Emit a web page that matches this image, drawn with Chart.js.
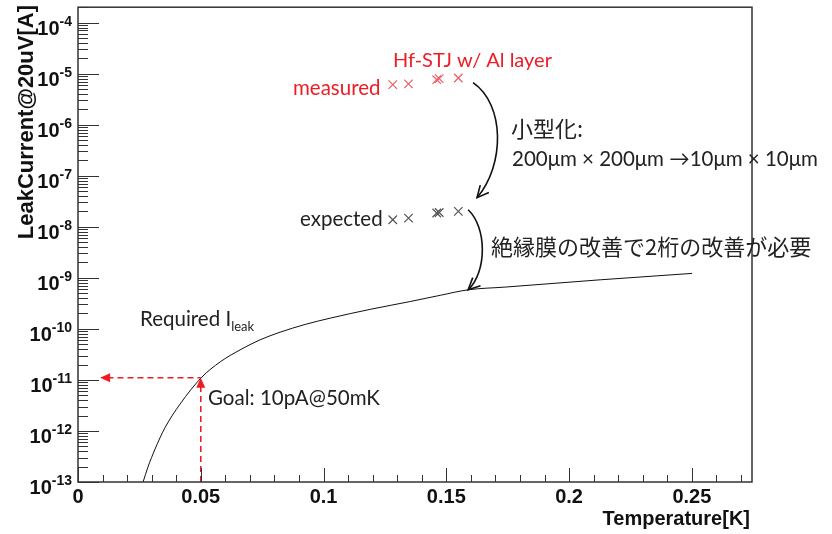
<!DOCTYPE html>
<html>
<head>
<meta charset="utf-8">
<script src="https://cdn.jsdelivr.net/npm/chart.js@4"></script>
<style>
  html, body { margin: 0; padding: 0; background: #fff; }
  #wrap { width: 832px; height: 534px; }
</style>
</head>
<body>
<div id="wrap"><canvas id="chart" width="832" height="534"></canvas></div>
<script>
// required leak current curve
const curveT = [0.0265, 0.0285, 0.0314, 0.0354, 0.0416, 0.0504, 0.0579, 0.066, 0.0741, 0.0823, 0.0925,
  0.1027, 0.119, 0.1353, 0.1475, 0.1589, 0.174, 0.2127, 0.2501];
const curveI = [1e-13, 1.97e-13, 4.44e-13, 1.15e-12, 3.38e-12, 1.13e-11, 2.25e-11, 3.87e-11, 6.08e-11, 8.6e-11, 1.22e-10,
  1.62e-10, 2.41e-10, 3.43e-10, 4.54e-10, 5.82e-10, 6.58e-10, 9.14e-10, 1.22e-9];

// Hf-STJ w/ Al layer, measured and expected after downsizing
const sampleT = [0.1282, 0.1346, 0.1461, 0.1471, 0.1549];
const measuredI = [6.1e-6, 6.3e-6, 7.6e-6, 8.0e-6, 8.2e-6];
const expectedI = [1.37e-8, 1.48e-8, 1.86e-8, 1.9e-8, 2.0e-8];

// goal point: 10pA @ 50mK
const goalT = 0.05;
const goalI = 1.1e-11;
const goalArrowT = 0.009;

// axis ticks
const xTicks = [0, 0.05, 0.1, 0.15, 0.2, 0.25];
const xTickLabels = ['0', '0.05', '0.1', '0.15', '0.2', '0.25'];
const yPowers = [-13, -12, -11, -10, -9, -8, -7, -6, -5, -4];

// curved arrows (data coords: start, ctrl1, ctrl2, end)
const arrow1 = [[0.1609, 6.67e-6], [0.1739, 2.47e-6], [0.1739, 1.64e-7], [0.1625, 3.71e-8]];
const arrow2 = [[0.1589, 2.15e-8], [0.1666, 9.55e-9], [0.1666, 1.31e-9], [0.1589, 5.82e-10]];

const RED = '#ee1c25';
const TXT = "Lato, 'Noto Sans CJK JP', sans-serif";
const CJK = "'Noto Sans CJK JP', sans-serif";
const AX = "'Liberation Sans', Arial, sans-serif";

function openHead(ctx, x, y, fx, fy, len) {
  const a = Math.atan2(y - fy, x - fx);
  ctx.beginPath();
  ctx.moveTo(x - len * Math.cos(a - 0.45), y - len * Math.sin(a - 0.45));
  ctx.lineTo(x, y);
  ctx.lineTo(x - len * Math.cos(a + 0.45), y - len * Math.sin(a + 0.45));
  ctx.stroke();
}

function fillHead(ctx, x, y, dir) {
  ctx.beginPath();
  if (dir === 'left') {
    ctx.moveTo(x, y); ctx.lineTo(x + 10, y - 4.5); ctx.lineTo(x + 10, y + 4.5);
  } else {
    ctx.moveTo(x, y); ctx.lineTo(x - 4.5, y + 10); ctx.lineTo(x + 4.5, y + 10);
  }
  ctx.closePath();
  ctx.fill();
}

const decor = {
  id: 'decor',
  afterDatasetsDraw(chart) {
    const { ctx, chartArea: a, scales: { x, y } } = chart;
    const X = v => x.getPixelForValue(v);
    const Y = v => y.getPixelForValue(v);
    ctx.save();

    // frame
    ctx.strokeStyle = '#333';
    ctx.lineWidth = 1.5;
    ctx.strokeRect(a.left, a.top, a.right - a.left, a.bottom - a.top);

    // x ticks
    ctx.lineWidth = 1;
    ctx.strokeStyle = '#333';
    for (let i = 0; i <= 27; i++) {
      const px = Math.round(X(i / 100)) + 0.5;
      const len = i % 5 === 0 ? 14 : 7;
      ctx.beginPath(); ctx.moveTo(px, a.bottom); ctx.lineTo(px, a.bottom - len); ctx.stroke();
    }
    // y ticks
    yPowers.forEach(p => {
      for (let m = 1; m <= 9; m++) {
        const v = m * Math.pow(10, p);
        if (v > y.max) break;
        const py = Math.round(Y(v)) + 0.5;
        const len = m === 1 ? 21 : 10;
        ctx.beginPath(); ctx.moveTo(a.left, py); ctx.lineTo(a.left + len, py); ctx.stroke();
      }
    });

    // tick labels
    ctx.fillStyle = '#111';
    ctx.textBaseline = 'alphabetic';
    ctx.textAlign = 'center';
    ctx.font = 'bold 20px ' + AX;
    xTicks.forEach((t, i) => ctx.fillText(xTickLabels[i], X(t), 503));
    yPowers.forEach(p => {
      const py = Y(Math.pow(10, p));
      ctx.font = 'bold 14px ' + AX;
      const e = String(p);
      const w = ctx.measureText(e).width;
      ctx.textAlign = 'left';
      ctx.fillText(e, 72 - w, py + 3);
      ctx.font = 'bold 20px ' + AX;
      ctx.textAlign = 'right';
      ctx.fillText('10', 72 - w, py + 12);
    });

    // axis titles
    ctx.font = 'bold 20px ' + AX;
    ctx.textAlign = 'right';
    ctx.fillText('Temperature[K]', 750, 525);
    ctx.save();
    ctx.translate(33, 5);
    ctx.rotate(-Math.PI / 2);
    ctx.font = 'bold 22px ' + AX;
    ctx.fillText('LeakCurrent@20uV[A]', 0, 0);
    ctx.restore();

    // goal arrow heads
    ctx.fillStyle = RED;
    fillHead(ctx, X(goalArrowT), Y(goalI), 'left');
    fillHead(ctx, X(goalT), Y(goalI), 'up');

    // curved arrows
    ctx.strokeStyle = '#111';
    ctx.lineWidth = 1.6;
    [arrow1, arrow2].forEach(ar => {
      const p = ar.map(([t, i]) => [X(t), Y(i)]);
      ctx.beginPath();
      ctx.moveTo(p[0][0], p[0][1]);
      ctx.bezierCurveTo(p[1][0], p[1][1], p[2][0], p[2][1], p[3][0], p[3][1]);
      ctx.stroke();
      openHead(ctx, p[3][0], p[3][1], p[2][0], p[2][1], 13);
    });

    // annotation texts
    ctx.textAlign = 'left';
    ctx.fillStyle = RED;
    ctx.font = '20px ' + TXT;
    ctx.fillText('Hf-STJ w/ Al layer', 393, 67);
    ctx.font = '20.5px ' + TXT;
    ctx.fillText('measured', 293, 95);
    ctx.fillStyle = '#222';
    ctx.fillText('expected', 300, 226);
    ctx.font = '22px ' + CJK;
    ctx.fillText('小型化:', 511, 137);
    ctx.font = '20.5px ' + TXT;
    ctx.fillText('200μm × 200μm →10μm × 10μm', 512, 166);
    ctx.font = '22px ' + CJK;
    ctx.fillText('絶縁膜の改善で2桁の改善が必要', 491, 255);
    ctx.font = '20.5px ' + TXT;
    ctx.fillText('Required I', 140, 326);
    const rw = ctx.measureText('Required I').width;
    ctx.font = '13px ' + TXT;
    ctx.fillText('leak', 140 + rw, 331);
    ctx.font = '20.5px ' + TXT;
    ctx.fillText('Goal: 10pA@50mK', 208, 405);

    ctx.restore();
  }
};

const whiteBg = {
  id: 'whiteBg',
  beforeDraw(chart) {
    const c = chart.ctx;
    c.save(); c.fillStyle = '#fff'; c.fillRect(0, 0, chart.width, chart.height); c.restore();
  }
};

new Chart(document.getElementById('chart').getContext('2d'), {
  type: 'scatter',
  data: {
    datasets: [
      {
        label: 'Required Ileak',
        data: curveT.map((t, i) => ({ x: t, y: curveI[i] })),
        showLine: true,
        borderColor: '#111',
        borderWidth: 1,
        pointRadius: 0,
        cubicInterpolationMode: 'monotone'
      },
      {
        label: 'measured',
        data: sampleT.map((t, i) => ({ x: t, y: measuredI[i] })),
        pointStyle: 'crossRot',
        pointRadius: 6,
        borderColor: '#f05a64',
        borderWidth: 1.2
      },
      {
        label: 'expected',
        data: sampleT.map((t, i) => ({ x: t, y: expectedI[i] })),
        pointStyle: 'crossRot',
        pointRadius: 6,
        borderColor: '#555',
        borderWidth: 1.2
      },
      {
        label: 'goal T',
        data: [{ x: goalArrowT + 0.003, y: goalI }, { x: goalT, y: goalI }],
        showLine: true,
        borderColor: RED,
        borderWidth: 1.6,
        borderDash: [6, 4],
        pointRadius: 0
      },
      {
        label: 'goal I',
        data: [{ x: goalT, y: 1e-13 }, { x: goalT, y: goalI * 0.75 }],
        showLine: true,
        borderColor: RED,
        borderWidth: 1.6,
        borderDash: [6, 4],
        pointRadius: 0
      }
    ]
  },
  options: {
    responsive: false,
    animation: false,
    layout: { padding: { left: 78, right: 80, top: 7, bottom: 52 } },
    plugins: { legend: { display: false }, tooltip: { enabled: false } },
    scales: {
      x: { type: 'linear', min: 0, max: 0.2745, display: false },
      y: { type: 'logarithmic', min: 1e-13, max: 2e-4, display: false }
    }
  },
  plugins: [whiteBg, decor]
});
</script>
</body>
</html>
